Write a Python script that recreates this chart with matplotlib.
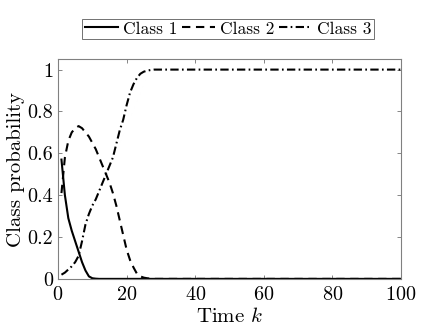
import numpy as np
import matplotlib
matplotlib.use('Agg')
import matplotlib.pyplot as plt

plt.rcParams['font.family'] = 'cmr10'
plt.rcParams['mathtext.fontset'] = 'cm'
plt.rcParams['axes.formatter.use_mathtext'] = True
plt.rcParams['axes.unicode_minus'] = False

# time steps
k = np.arange(1, 101)

# class probabilities (k = 1..30, then flat)
class1 = [0.57, 0.40, 0.29, 0.23, 0.18, 0.13, 0.08, 0.04, 0.012, 0.003,
          0.001, 0.0, 0.0, 0.0, 0.0, 0.0, 0.0, 0.0, 0.0, 0.0,
          0.0, 0.0, 0.0, 0.0, 0.0, 0.0, 0.0, 0.0, 0.0, 0.0] + [0.0] * 70
class2 = [0.41, 0.58, 0.66, 0.70, 0.72, 0.73, 0.72, 0.70, 0.68, 0.65,
          0.62, 0.58, 0.54, 0.50, 0.46, 0.41, 0.35, 0.28, 0.21, 0.14,
          0.09, 0.055, 0.025, 0.012, 0.006, 0.003, 0.001, 0.0, 0.0, 0.0] + [0.0] * 70
class3 = [0.02, 0.03, 0.045, 0.06, 0.08, 0.11, 0.18, 0.26, 0.31, 0.35,
          0.38, 0.42, 0.46, 0.50, 0.54, 0.58, 0.645, 0.71, 0.76, 0.83,
          0.89, 0.93, 0.96, 0.98, 0.99, 0.995, 0.998, 1.0, 1.0, 1.0] + [1.0] * 70

labels = ['Class 1', 'Class 2', 'Class 3']

fig = plt.figure(figsize=(4.43, 3.36), dpi=100)
ax = fig.add_axes([0.131, 0.170, 0.774, 0.654])

lw = 1.5
ax.plot(k, class1, color='k', lw=lw, ls='-', label=labels[0])
ax.plot(k, class2, color='k', lw=lw, ls=(0, (4, 2.7)), label=labels[1])
ax.plot(k, class3, color='k', lw=lw, ls=(0, (4, 1.6, 0.8, 1.6)), label=labels[2])

ax.set_xlim(0, 100)
ax.set_ylim(0, 1.05)
ax.set_xticks([0, 20, 40, 60, 80, 100])
ax.set_yticks([0, 0.2, 0.4, 0.6, 0.8, 1])
ax.set_yticklabels(['0', '0.2', '0.4', '0.6', '0.8', '1'])
ax.tick_params(direction='in', top=True, right=True, labelsize=14.5,
               length=3, width=0.6, color='0.45')
ax.tick_params(axis='x', pad=5)
ax.tick_params(axis='y', pad=3.5)
for s in ax.spines.values():
    s.set_color('0.5')
    s.set_linewidth(0.8)

ax.set_xlabel(r'Time $k$', fontsize=15, labelpad=2)
ax.set_ylabel('Class probability', fontsize=15, labelpad=2)

leg = fig.legend(loc='center', bbox_to_anchor=(0.515, 0.914), ncol=3,
                 fontsize=12.5, frameon=True, fancybox=False, handlelength=1.9,
                 handletextpad=0.3, columnspacing=0.25, borderpad=0.15,
                 borderaxespad=0.0)
leg.get_frame().set_edgecolor('0.3')
leg.get_frame().set_linewidth(0.7)

fig.savefig('out.png', dpi=100)
